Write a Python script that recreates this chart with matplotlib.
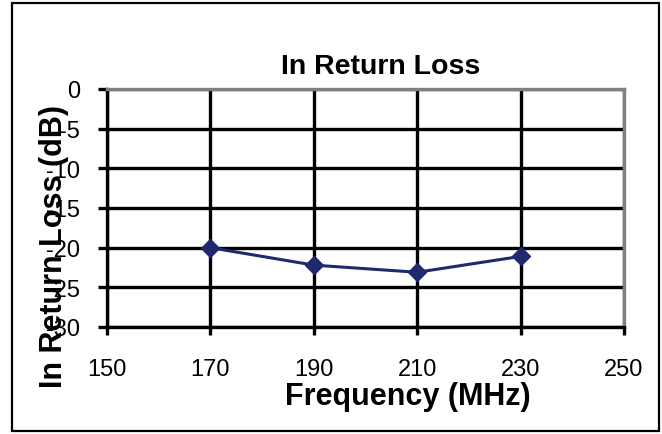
import matplotlib
matplotlib.use('Agg')
import matplotlib.pyplot as plt
from matplotlib.patches import Rectangle

plt.rcParams['font.family'] = ['Liberation Sans', 'DejaVu Sans']
plt.rcParams['axes.unicode_minus'] = False

# data
freq = [170, 190, 210, 230]
ret_loss = [-20.0, -22.2, -23.1, -21.1]
xticks = [150, 170, 190, 210, 230, 250]
yticks = [-30, -25, -20, -15, -10, -5, 0]

W, H = 662, 435
fig = plt.figure(figsize=(W / 100, H / 100), dpi=100)
ax = fig.add_axes([107 / W, 1 - 328 / H, (624 - 107) / W, (328 - 90) / H])

ax.plot(freq, ret_loss, color='#1f2a6e', lw=2.2, marker='D', ms=9.5,
        zorder=5, clip_on=False)

ax.set_xlim(150, 250)
ax.set_ylim(-30, 0)
ax.set_xticks(xticks)
ax.set_yticks(yticks)
ax.grid(True, color='black', lw=2.4)
ax.set_axisbelow(True)

for s in ['left', 'bottom']:
    ax.spines[s].set_color('black')
    ax.spines[s].set_linewidth(2.4)
for s in ['top', 'right']:
    ax.spines[s].set_color('#808080')
    ax.spines[s].set_linewidth(2.4)

ax.tick_params(axis='y', direction='out', length=6.5, width=2.4, pad=13, labelsize=17)
ax.tick_params(axis='x', direction='out', length=6, width=2.4, pad=16, labelsize=17)

fig.text(381 / W, 1 - 74 / H, 'In Return Loss', ha='center', va='baseline',
         fontsize=20.5, fontweight='bold')
fig.text(408 / W, 1 - 405 / H, 'Frequency (MHz)', ha='center', va='baseline',
         fontsize=22, fontweight='bold')
fig.text(54 / W, 1 - 247 / H, 'In Return Loss (dB)', ha='center', va='center',
         rotation=90, fontsize=22, fontweight='bold', zorder=10)

fig.patches.append(Rectangle((12 / W, 1 - 432 / H), (659 - 12) / W, (432 - 4) / H,
                             transform=fig.transFigure, fill=False,
                             ec='black', lw=1.6))

fig.savefig('out.png', dpi=100)
